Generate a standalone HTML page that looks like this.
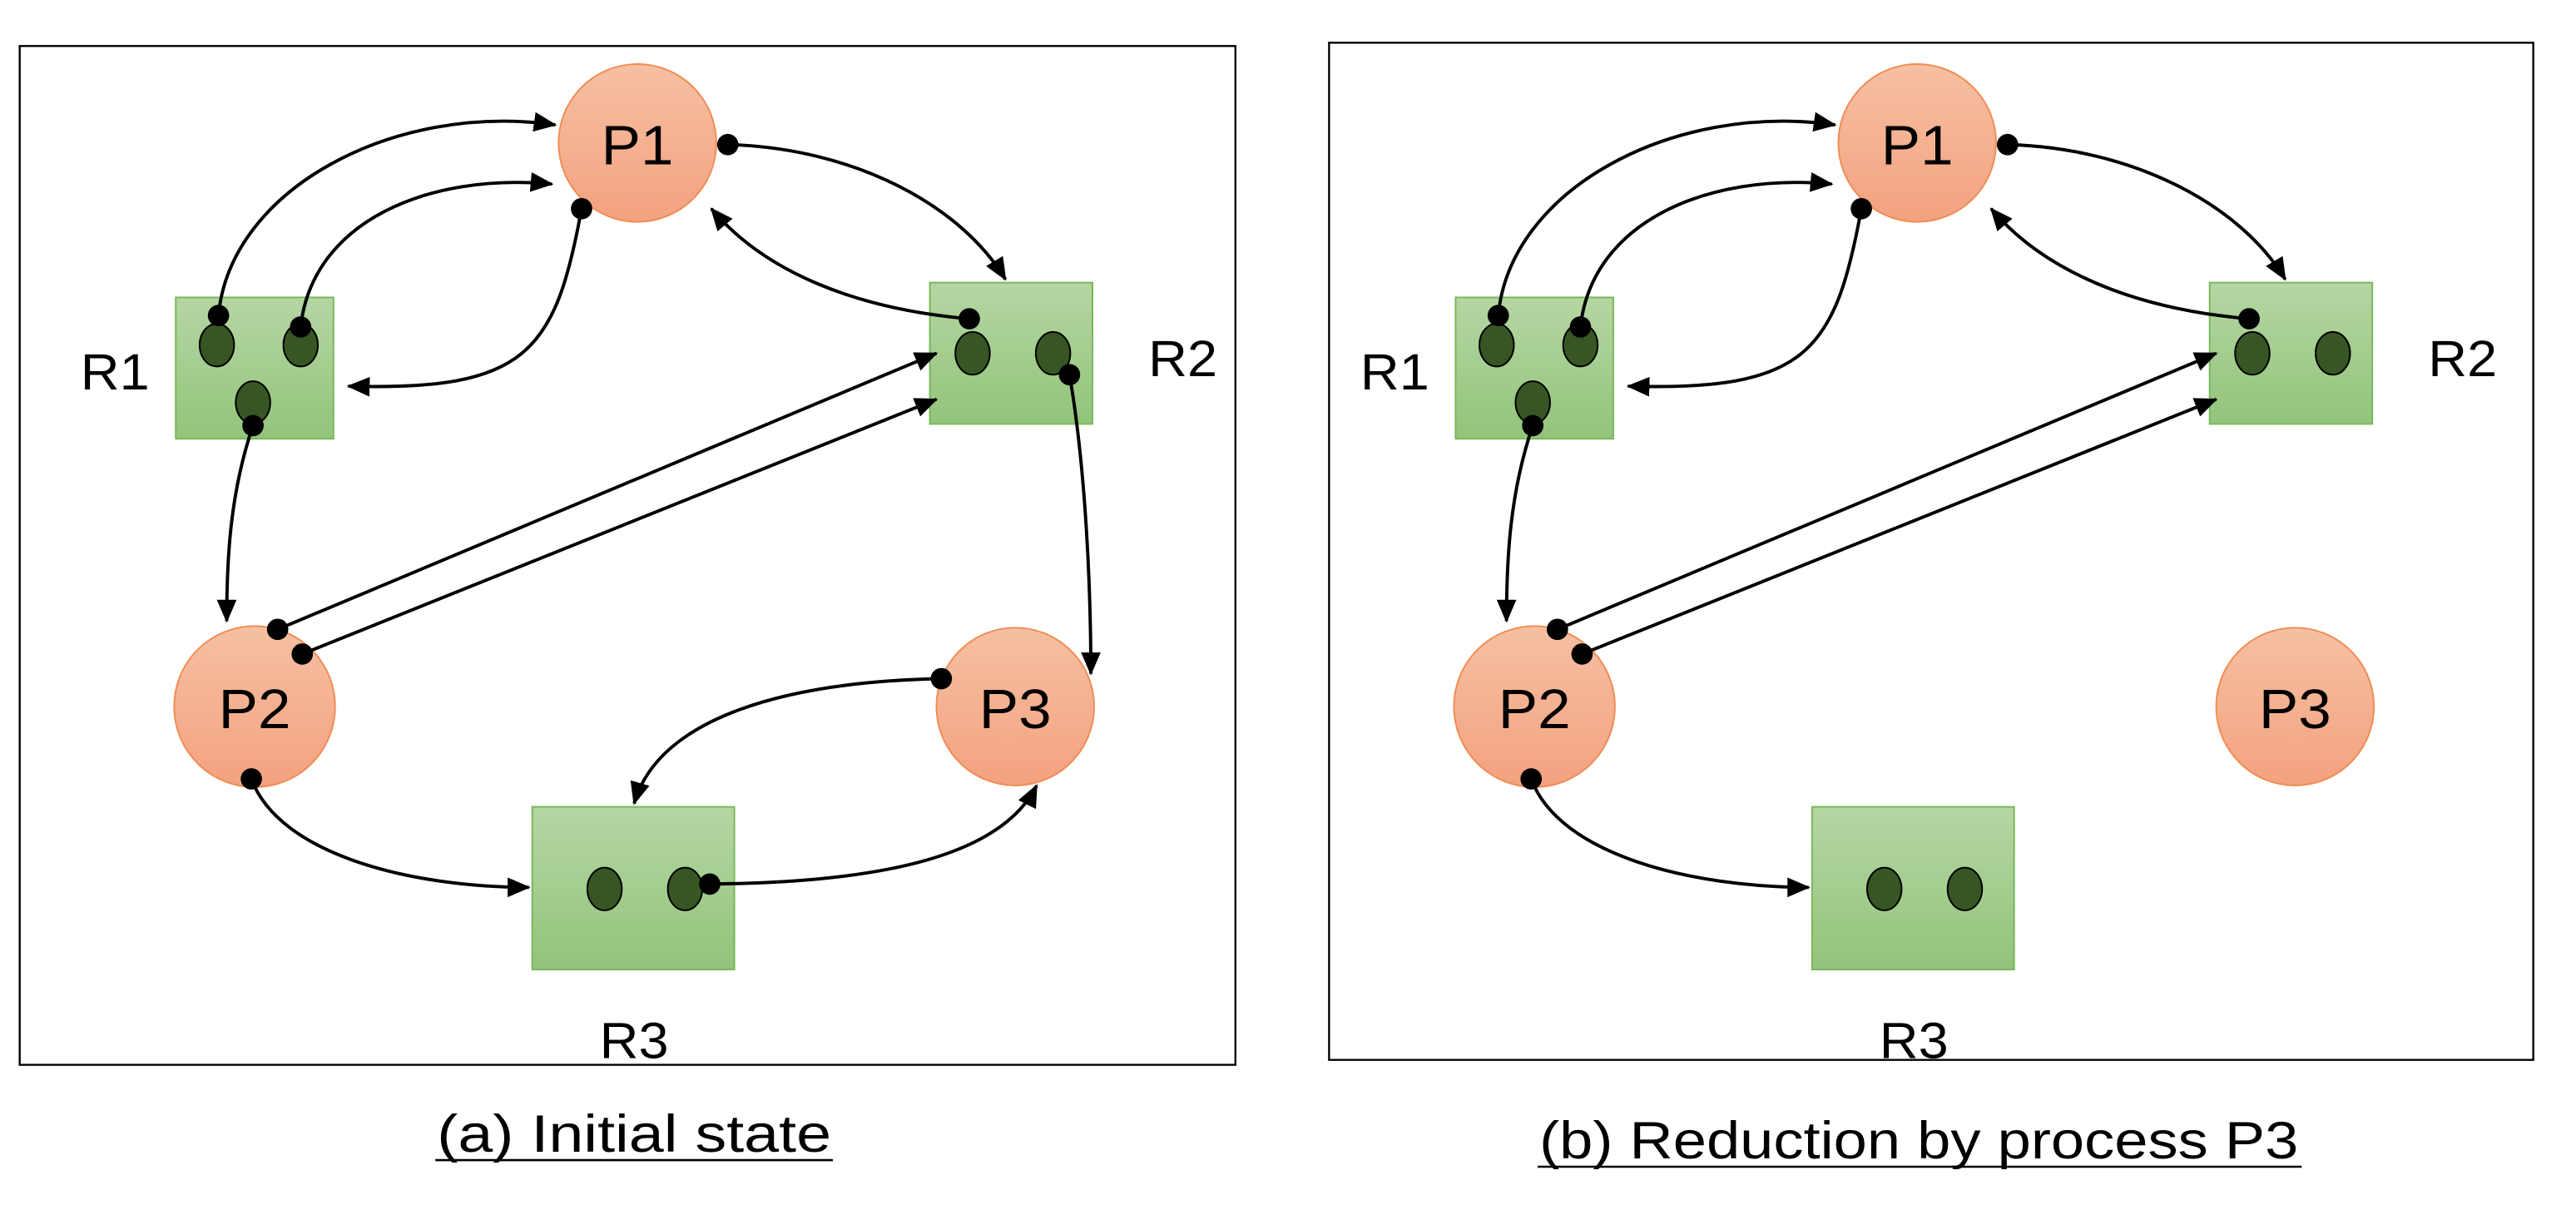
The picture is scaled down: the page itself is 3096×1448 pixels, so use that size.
<!DOCTYPE html>
<html><head><meta charset="utf-8"><style>
html,body{margin:0;padding:0;background:#fff;}
svg{display:block;}
text{font-family:"Liberation Sans",sans-serif;fill:#000;}
</style></head><body>
<svg width="3096" height="1448" viewBox="0 0 1568 733.3" preserveAspectRatio="none" xmlns="http://www.w3.org/2000/svg">
<defs>
<linearGradient id="g" x1="0" y1="0" x2="0" y2="1"><stop offset="0" stop-color="#b5d6a3"/><stop offset="1" stop-color="#93c47b"/></linearGradient>
<linearGradient id="o" x1="0" y1="0" x2="0" y2="1"><stop offset="0" stop-color="#f6c0a3"/><stop offset="1" stop-color="#f3a27f"/></linearGradient>
<marker id="a" markerWidth="14" markerHeight="12" refX="13" refY="6" orient="auto" markerUnits="userSpaceOnUse"><path d="M0,0 L14,6 L0,12 z" fill="#000"/></marker>
<g id="base">
<circle cx="388" cy="87" r="48" fill="url(#o)" stroke="#f08c55" stroke-width="1"/>
<circle cx="155" cy="430" r="49" fill="url(#o)" stroke="#f08c55" stroke-width="1"/>
<circle cx="618" cy="430" r="48" fill="url(#o)" stroke="#f08c55" stroke-width="1"/>
<text x="388" y="100" font-size="34" text-anchor="middle" textLength="44" lengthAdjust="spacingAndGlyphs">P1</text>
<text x="155" y="443" font-size="34" text-anchor="middle" textLength="44" lengthAdjust="spacingAndGlyphs">P2</text>
<text x="618" y="443" font-size="34" text-anchor="middle" textLength="44" lengthAdjust="spacingAndGlyphs">P3</text>
<rect x="107" y="181" width="96" height="86" fill="url(#g)" stroke="#78b85a" stroke-width="1"/>
<rect x="566" y="172" width="99" height="86" fill="url(#g)" stroke="#78b85a" stroke-width="1"/>
<rect x="324" y="491" width="123" height="99" fill="url(#g)" stroke="#78b85a" stroke-width="1"/>
<text x="70" y="237" font-size="31" text-anchor="middle" textLength="42" lengthAdjust="spacingAndGlyphs">R1</text>
<text x="720" y="229" font-size="31" text-anchor="middle" textLength="42" lengthAdjust="spacingAndGlyphs">R2</text>
<text x="386" y="644" font-size="31" text-anchor="middle" textLength="42" lengthAdjust="spacingAndGlyphs">R3</text>
<g fill="#375623" stroke="#000" stroke-width="1">
<ellipse cx="132" cy="210" rx="10.5" ry="13"/><ellipse cx="183" cy="210" rx="10.5" ry="13"/><ellipse cx="154" cy="245" rx="10.5" ry="13"/>
<ellipse cx="592" cy="215" rx="10.5" ry="13"/><ellipse cx="641" cy="215" rx="10.5" ry="13"/>
<ellipse cx="368" cy="541" rx="10.5" ry="13"/><ellipse cx="417" cy="541" rx="10.5" ry="13"/>
</g>
<g fill="none" stroke="#000" stroke-width="2" marker-end="url(#a)">
<path d="M133,192 C140,115 240,62 338,76"/>
<path d="M183,199 C190,135 260,105 336,112"/>
<path d="M354,127 C338,215 320,238 212,235"/>
<path d="M443,88 C520,90 585,125 612,170"/>
<path d="M590,194 C520,188 465,165 433,127"/>
<path d="M154,259 C140,300 138,340 138,378"/>
<path d="M169,383 L570,215"/>
<path d="M184,398 L570,243"/>
<path d="M153,474 C170,520 250,540 322,540"/>
</g>
<g fill="#000">
<circle cx="133" cy="192" r="6.5"/><circle cx="183" cy="199" r="6.5"/><circle cx="154" cy="259" r="6.5"/>
<circle cx="443" cy="88" r="6.5"/><circle cx="354" cy="127" r="6.5"/>
<circle cx="590" cy="194" r="6.5"/>
<circle cx="169" cy="383" r="6.5"/><circle cx="184" cy="398" r="6.5"/><circle cx="153" cy="474" r="6.5"/>
</g>
</g>
</defs>
<rect x="12" y="28" width="740" height="620" fill="none" stroke="#000" stroke-width="1.2"/>
<use href="#base"/>
<g fill="none" stroke="#000" stroke-width="2" marker-end="url(#a)">
<path d="M651,228 C660,280 664,350 664,410"/>
<path d="M573,413 C470,415 400,440 386,489"/>
<path d="M432,538 C540,537 610,520 631,478"/>
</g>
<g fill="#000"><circle cx="651" cy="228" r="6.5"/><circle cx="573" cy="413" r="6.5"/><circle cx="432" cy="538" r="6.5"/></g>
<text x="386" y="701" font-size="32" text-anchor="middle" textLength="240" lengthAdjust="spacingAndGlyphs">(a) Initial state</text>
<line x1="265" y1="706" x2="507" y2="706" stroke="#000" stroke-width="1.3"/>

<rect x="809" y="26" width="733" height="619" fill="none" stroke="#000" stroke-width="1.2"/>
<use href="#base" transform="translate(779,0)"/>
<text x="1168" y="705" font-size="32" text-anchor="middle" textLength="462" lengthAdjust="spacingAndGlyphs">(b) Reduction by process P3</text>
<line x1="936" y1="710" x2="1401" y2="710" stroke="#000" stroke-width="1.3"/>
</svg>
</body></html>
